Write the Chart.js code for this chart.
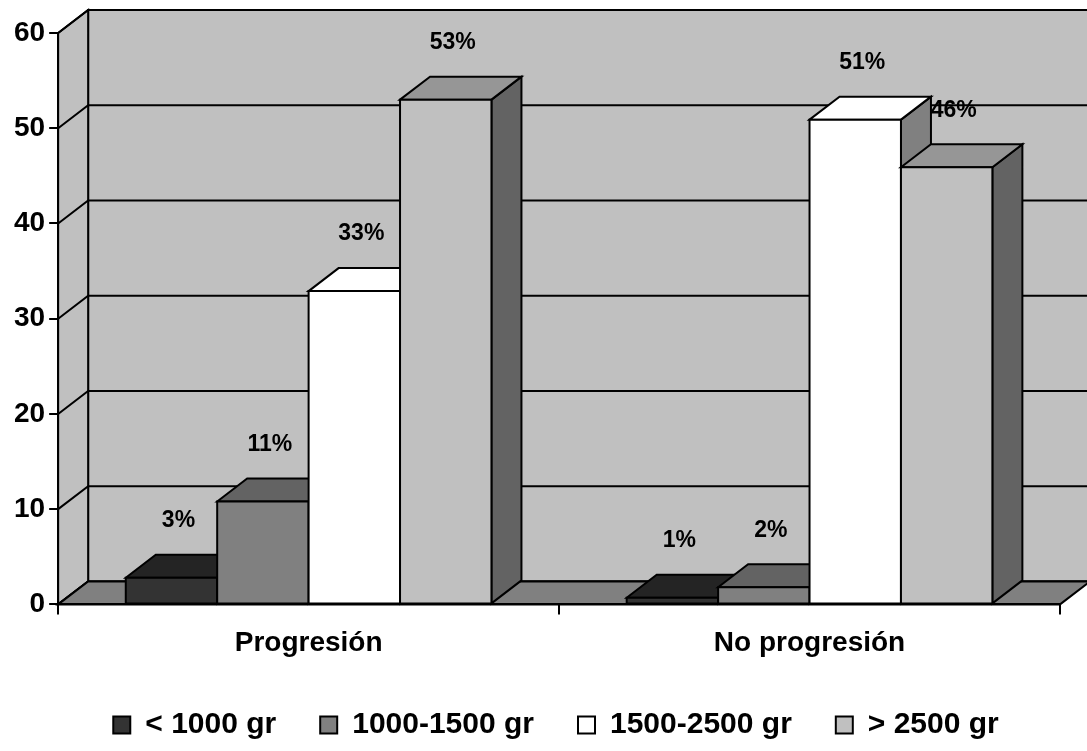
<!DOCTYPE html>
<html>
<head>
<meta charset="utf-8">
<script src="https://cdn.jsdelivr.net/npm/chart.js@4"></script>
<style>
  html, body { margin: 0; padding: 0; background: #ffffff; }
  #wrap { width: 1087px; height: 751px; }
</style>
</head>
<body>
<div id="wrap"><canvas id="birthChart" width="1087" height="751"></canvas></div>
<script>
const ctx = document.getElementById('birthChart').getContext('2d');

// categories and weight groups
const groups = ['Progresión', 'No progresión'];
const weightClasses = ['< 1000 gr', '1000-1500 gr', '1500-2500 gr', '> 2500 gr'];

// bar heights (per weight class, one value per group)
const under1000 = [2.8, 0.7];
const from1000to1500 = [10.8, 1.8];
const from1500to2500 = [32.9, 50.9];
const over2500 = [53.0, 45.9];

// printed labels above the bars
const labelsUnder1000 = ['3%', '1%'];
const labels1000to1500 = ['11%', '2%'];
const labels1500to2500 = ['33%', '51%'];
const labelsOver2500 = ['53%', '46%'];

const yTicks = [0, 10, 20, 30, 40, 50, 60];

// colours: front, top, side
const fronts = ['#333333', '#808080', '#ffffff', '#c0c0c0'];
const tops = ['#242424', '#636363', '#ffffff', '#969696'];
const sides = ['#1c1c1c', '#636363', '#808080', '#636363'];

const DX = 30;  // depth offset
const DY = -23;
const FONT = "'Liberation Sans', Arial, sans-serif";

function poly(c, pts, fill) {
  c.beginPath();
  c.moveTo(pts[0][0], pts[0][1]);
  for (let i = 1; i < pts.length; i++) c.lineTo(pts[i][0], pts[i][1]);
  c.closePath();
  c.fillStyle = fill;
  c.fill();
  c.stroke();
}

// walls + floor + back grid
const walls = {
  id: 'walls',
  afterLayout(chart) {
    // legend in the original is centred a little right of the plot
    chart.legend.left += 42;
  },
  beforeDraw(chart) {
    const c = chart.ctx;
    const a = chart.chartArea;
    const y = chart.scales.y;
    c.save();
    c.lineWidth = 2;
    c.strokeStyle = '#000';
    // back wall
    poly(c, [[a.left + DX, a.top + DY], [a.right + DX + 40, a.top + DY],
             [a.right + DX + 40, a.bottom + DY], [a.left + DX, a.bottom + DY]], '#c0c0c0');
    // left wall
    poly(c, [[a.left, a.top], [a.left + DX, a.top + DY],
             [a.left + DX, a.bottom + DY], [a.left, a.bottom]], '#c0c0c0');
    // grid lines on back and side wall
    yTicks.forEach(v => {
      const py = y.getPixelForValue(v);
      c.beginPath();
      c.moveTo(a.left, py);
      c.lineTo(a.left + DX, py + DY);
      c.lineTo(a.right + DX + 40, py + DY);
      c.stroke();
    });
    // floor
    poly(c, [[a.left, a.bottom], [a.left + DX, a.bottom + DY],
             [a.right + DX, a.bottom + DY], [a.right, a.bottom]], '#808080');
    c.restore();
  }
};

// bars drawn as boxes, left to right: side, top, then front
const bars3d = {
  id: 'bars3d',
  beforeDatasetDraw() {
    return false; // the boxes are drawn below, in dataset order
  },
  afterDatasetsDraw(chart) {
    const c = chart.ctx;
    c.save();
    c.lineWidth = 2;
    c.strokeStyle = '#000';
    chart.data.datasets.forEach((ds, i) => {
      chart.getDatasetMeta(i).data.forEach(el => {
        const l = el.x - el.width / 2;
        const r = el.x + el.width / 2;
        const t = el.y;
        const b = el.base;
        poly(c, [[r, t], [r + DX, t + DY], [r + DX, b + DY], [r, b]], sides[i]);
        poly(c, [[l, t], [l + DX, t + DY], [r + DX, t + DY], [r, t]], tops[i]);
        poly(c, [[l, t], [r, t], [r, b], [l, b]], fronts[i]);
      });
    });
    // value labels
    const texts = [labelsUnder1000, labels1000to1500, labels1500to2500, labelsOver2500];
    c.fillStyle = '#000';
    c.font = 'bold 23px ' + FONT;
    c.textAlign = 'center';
    c.textBaseline = 'middle';
    chart.data.datasets.forEach((ds, i) => {
      chart.getDatasetMeta(i).data.forEach((el, j) => {
        c.fillText(texts[i][j], el.x + 7, el.y - 57);
      });
    });
    c.restore();
  }
};

const series = [under1000, from1000to1500, from1500to2500, over2500];

Chart.defaults.font.family = FONT;
Chart.defaults.color = '#000';

const birthChart = new Chart(ctx, {
  type: 'bar',
  data: {
    labels: groups,
    datasets: series.map((vals, i) => ({
      label: weightClasses[i],
      data: vals,
      backgroundColor: fronts[i],
      borderColor: '#000',
      borderWidth: 2,
      categoryPercentage: 0.73,
      barPercentage: 1.0
    }))
  },
  options: {
    responsive: false,
    animation: false,
    devicePixelRatio: 1,
    layout: {
      padding: { left: 10, right: 27, top: 33, bottom: 1 }
    },
    plugins: {
      tooltip: { enabled: false },
      legend: {
        position: 'bottom',
        labels: {
          font: { size: 30, weight: 'bold' },
          color: '#000',
          boxWidth: 17,
          boxHeight: 17,
          padding: 44
        }
      }
    },
    scales: {
      x: {
        afterFit(scale) { scale.height -= 6; },
        grid: {
          offset: true,
          drawOnChartArea: false,
          tickLength: 10,
          color: '#000',
          lineWidth: 2
        },
        border: { display: true, color: '#000', width: 2 },
        ticks: {
          font: { size: 28, weight: 'bold' },
          color: '#000',
          padding: 12
        }
      },
      y: {
        min: 0,
        max: 60,
        grid: {
          drawOnChartArea: false,
          tickLength: 9,
          color: '#000',
          lineWidth: 2
        },
        border: { display: true, color: '#000', width: 2 },
        ticks: {
          stepSize: 10,
          font: { size: 28, weight: 'bold' },
          color: '#000',
          padding: 4
        }
      }
    }
  },
  plugins: [walls, bars3d]
});
</script>
</body>
</html>
